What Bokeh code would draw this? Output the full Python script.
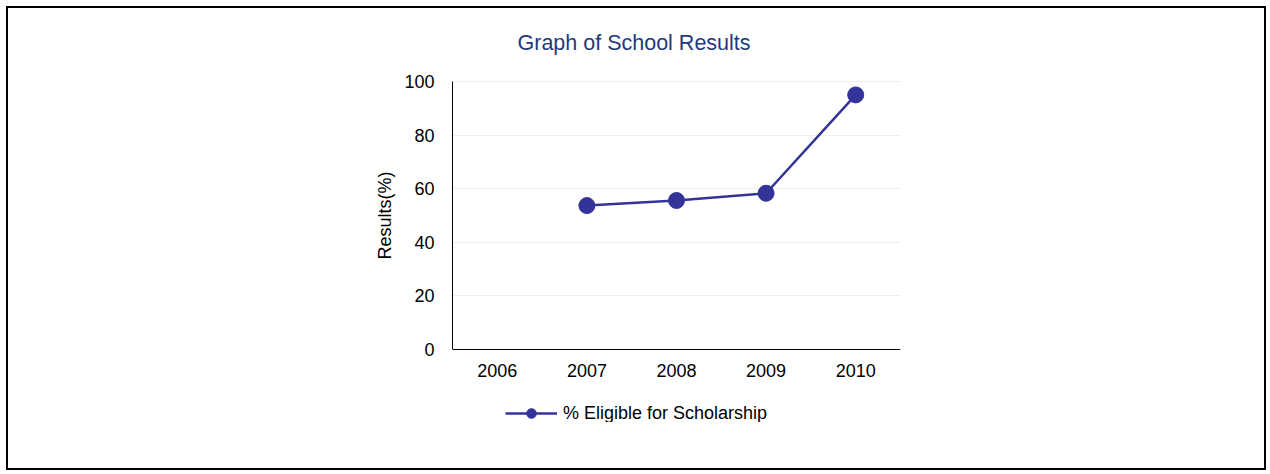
import math
from bokeh.plotting import figure
from bokeh.models import ColumnDataSource, Legend, LegendItem, FixedTicker, Label
from bokeh.embed import file_html
from bokeh.resources import INLINE

years = ["2006", "2007", "2008", "2009", "2010"]
eligible = [float("nan"), 53.7, 55.6, 58.3, 95.0]
y_ticks = [0, 20, 40, 60, 80, 100]
title_text = "Graph of School Results"
series_name = "% Eligible for Scholarship"
y_label = "Results(%)"

FONT = "Liberation Sans"
SERIES_COLOR = "#333399"
TITLE_COLOR = "#1f3a7a"

src = ColumnDataSource(data=dict(year=years, val=eligible))

# the frame is extended symmetrically above and below the 0-100 axis so that
# the title and the legend can live inside it (annotations are clipped to the
# frame) and the axis label stays centred on the 0-100 span
p = figure(
    x_range=years, y_range=(-27.24, 127.24),
    frame_width=448, frame_height=414,
    output_backend="svg", toolbar_location=None,
    min_border_left=444, min_border_right=364,
    min_border_top=0, min_border_bottom=46,
)
p.styles = {"border": "2px solid black", "margin": "6px"}
p.x_range.range_padding = 0
p.outline_line_color = None
p.background_fill_color = "white"
p.border_fill_color = "white"

# grids
p.xgrid.grid_line_color = None
p.ygrid.grid_line_color = "#efefef"
p.ygrid.grid_line_width = 1

# axes
p.yaxis.ticker = FixedTicker(ticks=y_ticks)
p.yaxis.bounds = (0, 100)
p.xaxis.fixed_location = 0
for ax in (p.xaxis[0], p.yaxis[0]):
    ax.axis_line_color = "black"
    ax.axis_line_width = 1
    ax.major_tick_line_color = None
    ax.minor_tick_line_color = None
    ax.major_tick_out = 0
    ax.major_tick_in = 0
    ax.major_label_text_font = FONT
    ax.major_label_text_font_size = "18px"
    ax.major_label_text_color = "black"
p.xaxis.major_label_standoff = 15
p.yaxis.major_label_standoff = 18
p.yaxis.axis_label = y_label
p.yaxis.axis_label_text_font = FONT
p.yaxis.axis_label_text_font_size = "18px"
p.yaxis.axis_label_text_font_style = "normal"
p.yaxis.axis_label_text_color = "black"
p.yaxis.axis_label_standoff = 6

line_r = p.line("year", "val", source=src, line_color=SERIES_COLOR, line_width=2.5)
pt_r = p.scatter("year", "val", source=src, size=16, fill_color=SERIES_COLOR,
                 line_color=SERIES_COLOR, marker="circle")

legend = Legend(
    items=[LegendItem(label=series_name, renderers=[line_r, pt_r])],
    location=(53, -3),
    padding=0, margin=0, spacing=0,
    glyph_width=52, glyph_height=24, label_standoff=6,
    label_text_font=FONT, label_text_font_size="18px", label_text_color="black",
    border_line_color=None, background_fill_alpha=0,
)
p.add_layout(legend, "center")

title_lbl = Label(
    x=2.026, y=114.2,
    text=title_text, text_align="center", text_baseline="middle",
    text_font=FONT, text_font_size="21.5px", text_color=TITLE_COLOR,
)
p.add_layout(title_lbl)

open("out.html", "w").write(file_html(p, INLINE))
